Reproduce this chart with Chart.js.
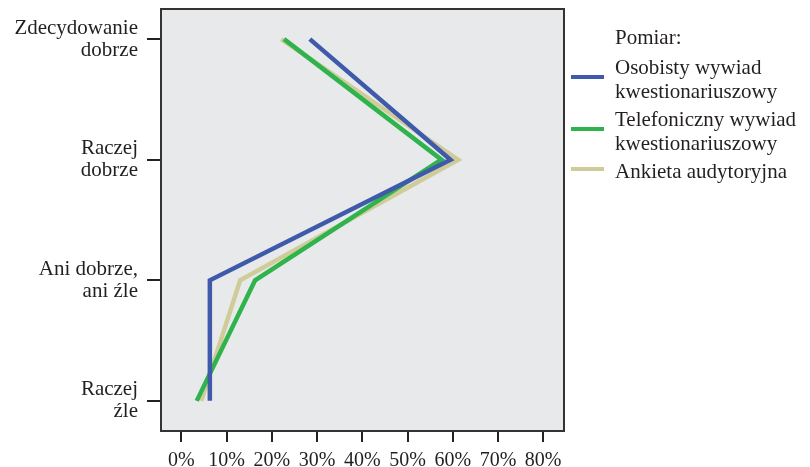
<!DOCTYPE html>
<html>
<head>
<meta charset="utf-8">
<script src="https://cdn.jsdelivr.net/npm/chart.js@4/dist/chart.umd.min.js"></script>
<style>
  html, body { margin: 0; padding: 0; background: #fff; }
  #wrap { width: 810px; height: 467px; }
</style>
</head>
<body>
<div id="wrap"><canvas id="chart1"></canvas></div>
<script>
// kategorie odpowiedzi (od góry)
const kategorie = [
  ["Zdecydowanie", "dobrze"],
  ["Raczej", "dobrze"],
  ["Ani dobrze,", "ani źle"],
  ["Raczej", "źle"]
];
const procenty = [0, 10, 20, 30, 40, 50, 60, 70, 80];

const osobisty = [28.4, 59.5, 6.3, 6.3];
const telefoniczny = [22.7, 57.5, 16.3, 3.4];
const ankieta = [22.1, 61.2, 13.0, 4.4];

const legendaTytul = "Pomiar:";
const etykiety = [
  ["Osobisty wywiad", "kwestionariuszowy"],
  ["Telefoniczny wywiad", "kwestionariuszowy"],
  ["Ankieta audytoryjna"]
];

const FONT = "'Liberation Serif', 'DejaVu Serif', serif";
const TEXT = "#231f20";

function punkty(arr) {
  return arr.map((v, i) => ({ x: v, y: i }));
}

// tło i ramka obszaru wykresu
const ramka = {
  id: "ramka",
  beforeDraw(chart) {
    const a = chart.chartArea, c = chart.ctx;
    c.save();
    c.fillStyle = "#e8e9eb";
    c.fillRect(a.left, a.top, a.width, a.height);
    c.restore();
  },
  afterDraw(chart) {
    const a = chart.chartArea, c = chart.ctx;
    c.save();
    c.strokeStyle = "#333";
    c.lineWidth = 2;
    c.strokeRect(a.left, a.top, a.width, a.height);

    // legenda po prawej
    let x = a.right + 7, y = 38;
    c.fillStyle = TEXT;
    c.font = "21px " + FONT;
    c.textBaseline = "middle";
    c.textAlign = "left";
    c.fillText(legendaTytul, x + 44, y);
    y += 30;
    chart.data.datasets.forEach((ds, i) => {
      const lines = etykiety[i];
      const sy = lines.length > 1 ? y + 9 : y - 3;
      c.strokeStyle = ds.borderColor;
      c.lineWidth = 4;
      c.beginPath();
      c.moveTo(x, sy);
      c.lineTo(x + 33, sy);
      c.stroke();
      lines.forEach((t, j) => {
        c.fillText(t, x + 44, y + j * 24);
      });
      y += lines.length * 24 + 4;
    });
    c.restore();
  }
};

const ctx = document.querySelector("#chart1").getContext("2d");
new Chart(ctx, {
  type: "scatter",
  data: {
    datasets: [
      { label: etykiety[0].join(" "), data: punkty(osobisty), borderColor: "#3f5aab", backgroundColor: "#3f5aab" },
      { label: etykiety[1].join(" "), data: punkty(telefoniczny), borderColor: "#2fb34c", backgroundColor: "#2fb34c" },
      { label: etykiety[2].join(" "), data: punkty(ankieta), borderColor: "#cfcc9a", backgroundColor: "#cfcc9a" }
    ].map(d => Object.assign(d, { showLine: true, borderWidth: 4.5, pointRadius: 0, pointHoverRadius: 0, borderCapStyle: "butt", borderJoinStyle: "miter" }))
  },
  options: {
    responsive: true,
    maintainAspectRatio: false,
    animation: false,
    layout: { padding: { top: 9, right: 246, bottom: 0, left: 0 } },
    plugins: {
      legend: { display: false },
      tooltip: { enabled: false }
    },
    scales: {
      x: {
        type: "linear",
        min: -4.5,
        max: 84.6,
        afterBuildTicks: s => { s.ticks = procenty.map(v => ({ value: v })); },
        afterFit: s => { s.height = 36; s.paddingLeft = 0; s.paddingRight = 0; },
        grid: { drawOnChartArea: false, tickLength: 11, color: "#222", lineWidth: 2 },
        border: { display: false },
        ticks: {
          padding: 7,
          color: TEXT,
          font: { family: FONT, size: 20 },
          maxRotation: 0,
          callback: v => v + "%"
        }
      },
      y: {
        type: "linear",
        reverse: true,
        min: -0.25,
        max: 3.25,
        afterBuildTicks: s => { s.ticks = kategorie.map((k, i) => ({ value: i })); },
        afterFit: s => { s.width = 161; s.paddingTop = 0; s.paddingBottom = 0; },
        grid: { drawOnChartArea: false, tickLength: 14, color: "#222", lineWidth: 2 },
        border: { display: false },
        ticks: {
          padding: 9,
          color: TEXT,
          font: { family: FONT, size: 21, lineHeight: 1.05 },
          callback: v => kategorie[v]
        }
      }
    }
  },
  plugins: [ramka]
});
</script>
</body>
</html>
